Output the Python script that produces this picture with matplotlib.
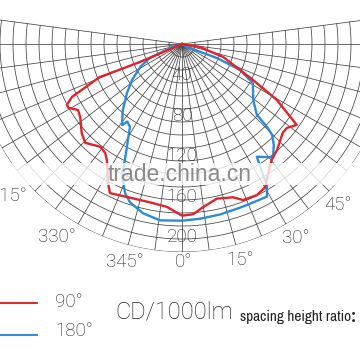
import numpy as np
import matplotlib
matplotlib.use('Agg')
import matplotlib.pyplot as plt
from matplotlib import font_manager
from matplotlib.lines import Line2D
from matplotlib.patches import Rectangle

# candela curves, angle in degrees (0 = straight down), value in cd/1000lm
red_angle = [-66, -66.8, -68.1, -64.3, -62.1, -60.7, -57.6, -54.4, -48.3, -44.4,
             -38.5, -35.2, -32.9, -28.0, -25.8, -19.8, -11.4, -5.3, 0, 3.7,
             7.3, 12.7, 18.4, 21.4, 26.4, 30.1, 33.3, 37.8, 41.9, 48.6,
             51.3, 54.8, 59.5, 63.1, 72.4, 80.5, 80]
red_cd = [0, 45, 88, 121, 129, 129, 122, 124, 133, 137,
          130, 132, 137, 156, 164, 161, 160, 162, 170, 169,
          163, 157, 160, 166, 167, 164, 155, 145, 141, 133,
          133, 139, 109, 79, 43, 18, 0]

blue_angle = [-70, -71.6, -66.4, -61.3, -54.2, -48.3, -41.8, -36.5, -35.2, -32.1,
              -29.4, -26.2, -24.6, -20.9, -18.2, -13.0, -7.1, 0, 5.9, 12.5,
              19.5, 24.1, 29.1, 31.1, 32.0, 33.6, 38.8, 42.3, 44.7, 45.7,
              46.6, 51.7, 61.2, 63.1, 65.9, 68.2, 59, 59]
blue_cd = [0, 12, 35, 47, 61, 73, 88, 100, 94, 97,
           109, 128, 143, 158, 165, 172, 176, 175, 174, 173,
           172, 172, 173, 163, 149, 134, 144, 135, 127, 118,
           102, 90, 80, 72, 63, 37, 6, 0]

ring_labels = [40, 80, 120, 160, 200]
angle_labels = [0, 15, 30, 45, 315, 330, 345]
legend_labels = ['90°', '180°']

RED = '#e3222a'
BLUE = '#2d8bd6'
GRID = '#444444'
TXT = '#222222'

plt.rcParams['font.family'] = ['Roboto', 'DejaVu Sans']

# look for a narrow face for the small caption
narrow = None
for f in font_manager.fontManager.ttflist:
    if 'Narrow' in f.name or 'Condensed' in f.name:
        narrow = f.name
        break
if narrow is None:
    for f in font_manager.fontManager.ttflist:
        if f.stretch in ('condensed', 'semi-condensed', 'extra-condensed'):
            narrow = f.name
            break

fig = plt.figure(figsize=(3.6, 3.6), dpi=100)
W = 360.0
cx, cy = 182 / W, 1 - 44 / W
R = 208 / W
rmax = 206

ax = fig.add_axes([cx - R, cy - R, 2 * R, 2 * R], projection='polar')
ax.set_theta_zero_location('S')
ax.set_theta_direction(1)
ax.set_ylim(0, rmax)
ax.grid(False)
ax.set_xticks([])
ax.set_yticks([])
ax.spines['polar'].set_visible(False)
ax.patch.set_visible(False)

# grid: rays every 7.5 deg, rings every rmax/16
for a in np.arange(-97.5, 97.6, 7.5):
    ax.plot([np.radians(a)] * 2, [0, rmax], color=GRID, lw=0.55, zorder=1)
th = np.radians(np.linspace(-97.5, 97.5, 300))
for r in np.linspace(0, rmax, 17)[1:]:
    ax.plot(th, np.full_like(th, r), color=GRID, lw=0.55, zorder=1)

ax.plot(np.radians(blue_angle), blue_cd, color=BLUE, lw=1.7, zorder=3)
ax.plot(np.radians(red_angle), red_cd, color=RED, lw=1.7, zorder=4)

for v in ring_labels:
    ax.text(0, v, str(v), ha='center', va='bottom', fontsize=13.5,
            color=TXT, fontweight='light', zorder=5)

# left-hand labels sit a bit further out than the right-hand ones
label_pos = {0: (0.5, 216), 15: (15, 221), 30: (30.5, 223), 45: (44, 222),
             315: (311, 229), 330: (327, 228), 345: (345.3, 223)}
for a in angle_labels:
    t, r = label_pos[a]
    ax.text(np.radians(t), r, f'{a}°', ha='center', va='center',
            fontsize=13.5, color=TXT, fontweight='light')

# watermark band
fig.add_artist(Rectangle((0, 1 - 185 / W), 1, 22 / W, transform=fig.transFigure,
                         facecolor='white', edgecolor='none', alpha=0.78, zorder=6))
fig.text(180 / W, 1 - 174 / W, 'trade.china.cn', ha='center', va='center',
         fontsize=16.5, color='#8a8a8a', family='Liberation Sans', zorder=7)

# legend / footer
for i, (col, lab) in enumerate(zip([RED, BLUE], legend_labels)):
    y = 1 - (303 + 32 * i) / W
    fig.add_artist(Line2D([0, 37 / W], [y, y], color=col, lw=1.4,
                          transform=fig.transFigure))
    fig.text(55 / W, 1 - (302 + 29 * i) / W, lab, ha='left', va='center',
             fontsize=13.5, color=TXT, fontweight='light')

fig.text(115 / W, 1 - 312 / W, 'CD/1000lm', ha='left', va='center',
         fontsize=17, color=TXT, fontweight='light')
if narrow:
    fig.text(240 / W, 1 - 317 / W, 'spacing height ratio', ha='left', va='center',
             fontsize=11, color=TXT, family=[narrow, 'DejaVu Sans'])
else:
    fig.text(240 / W, 1 - 318 / W, 'spacing height ratio', ha='left', va='center',
             fontsize=8.8, color=TXT, family=['Roboto', 'DejaVu Sans'])
fig.text(351 / W, 1 - 317 / W, ':', ha='left', va='center', fontsize=13,
         color=TXT, fontweight='bold')

fig.savefig('out.png', dpi=100, facecolor='white')
